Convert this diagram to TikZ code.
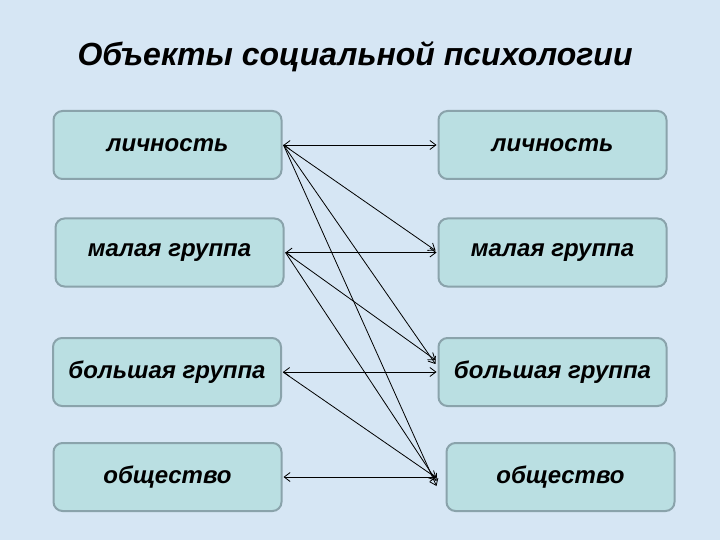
\documentclass[tikz,border=0pt]{standalone}
\usepackage{fontspec}
\setmainfont{Liberation Sans}
\usepackage{tikz}
\usetikzlibrary{arrows.meta,positioning,calc}
\definecolor{bgblue}{HTML}{D6E6F4}
\definecolor{boxfill}{HTML}{BADFE2}
\definecolor{boxline}{HTML}{8AA3AB}

\begin{document}
\begin{tikzpicture}[
  x=1pt, y=-1pt,
  font=\fontsize{24}{28}\selectfont\bfseries\itshape,
  level/.style={draw=boxline, fill=boxfill, line width=2pt, rounded corners=9pt,
    minimum width=228pt, minimum height=68pt, inner sep=2pt},
  arr/.style={-{Straight Barb[length=6pt,width=9pt]}, line width=0.8pt},
  dbl/.style={{Straight Barb[length=6pt,width=9pt]}-{Straight Barb[length=6pt,width=9pt]}, line width=0.8pt}
]
\fill[bgblue] (0,0) rectangle (720,540);
\useasboundingbox (0,0) rectangle (720,540);

\node[font=\fontsize{32}{38}\selectfont\bfseries\itshape] (title) at (355,57) {Объекты социальной психологии};

% left column
\node[level] (l1) at (167.5,145)   {личность};
\node[level] (l2) at (169.5,252.5) {малая группа};
\node[level] (l3) at (167,372)     {большая группа};
\node[level] (l4) at (167.5,477)   {общество};

% right column
\node[level] (r1) at (552.5,145)   {личность};
\node[level] (r2) at (552.5,252.5) {малая группа};
\node[level] (r3) at (552.5,372)   {большая группа};
\node[level] (r4) at (560.5,477)   {общество};

% same level
\draw[dbl] ([xshift=1pt]l1.east) -- ([xshift=-1pt]r1.west);
\draw[dbl] ([xshift=1pt]l2.east) -- ([xshift=-1pt]r2.west);
\draw[dbl] ([xshift=1pt]l3.east) -- ([xshift=-1pt]r3.west);
\draw[dbl] ([xshift=1pt]l4.east) -- ([xshift=-9pt]r4.west);

% to larger levels
\draw[arr] ([xshift=1pt]l1.east) -- ([xshift=-2pt,yshift=2pt]r2.west);
\draw[arr] ([xshift=1pt]l1.east) -- ([xshift=-2pt,yshift=8pt]r3.west);
\draw[arr] ([xshift=1pt]l1.east) -- ([xshift=-9pt,yshift=-9pt]r4.west);
\draw[arr] ([xshift=1pt]l2.east) -- ([xshift=-2pt,yshift=12pt]r3.west);
\draw[arr] ([xshift=1pt]l2.east) -- ([xshift=-9pt,yshift=-4pt]r4.west);
\draw[arr] ([xshift=1pt]l3.east) -- ([xshift=-9pt,yshift=-1pt]r4.west);
\end{tikzpicture}
\end{document}
